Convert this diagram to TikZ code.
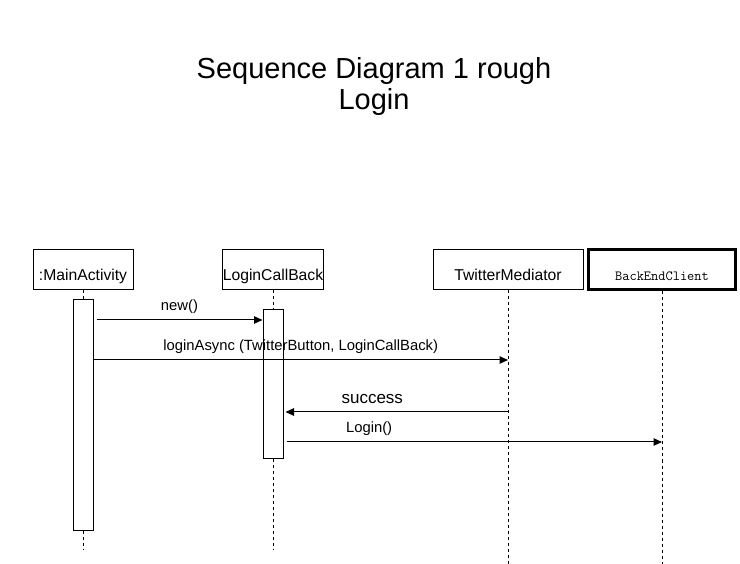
\documentclass[tikz,border=0pt]{standalone}
\usepackage{fontspec}
\setmainfont{Liberation Sans}
\usetikzlibrary{arrows.meta}

\begin{document}
\begin{tikzpicture}[
    x=1pt, % one unit per pixel of the original sketch
    y=-1pt, % y runs downwards, as in the sketch
    every node/.style={inner sep=0pt},
    title/.style={align=center, font=\fontsize{29}{31}\selectfont},
    actor/.style={draw, line width=1pt, minimum width=100pt, minimum height=40pt,
        text height=21pt, text depth=0pt, font=\fontsize{15.7}{18}\selectfont},
    lifeline/.style={line width=0.9pt, dash pattern=on 3pt off 3pt},
    activation/.style={draw, fill=white, line width=1pt, minimum width=20pt},
    msg/.style={line width=1pt, -{Triangle[length=8.5pt,width=7.5pt]}},
    msg label/.style={font=\fontsize{14.8}{17}\selectfont}
    ]

% --- Frame ---
\useasboundingbox (0,0) rectangle (740,564);

% --- Title ---
\node[title] (title) at (374,87) {Sequence Diagram 1 rough\\Login};

% --- Participants ---
\node[actor] (main) at (83,270) {:MainActivity};
\node[actor] (lcb) at (273,270) {LoginCallBack};
\node[actor, minimum width=150pt] (tm) at (508,270) {TwitterMediator};
\node[actor, minimum width=147pt, line width=3pt,
    font=\ttfamily\fontsize{14}{16}\selectfont] (bec) at (662,270) {BackEndClient};

% --- Lifelines ---
\foreach \p/\yEnd in {main/550, lcb/550, tm/564, bec/564} {
    \coordinate (\p-end) at (\p.south |- 0,\yEnd);
    \draw[lifeline] (\p.south) -- (\p-end);
}

% --- Activation bars ---
\node[activation, minimum height=230pt] (mainAct) at (83,415) {};
\node[activation, minimum height=148pt] (lcbAct) at (273,384) {};

% --- Messages ---
\coordinate (yNew) at (0,320);
\coordinate (yAsync) at (0,360);
\coordinate (ySuccess) at (0,412);
\coordinate (yLogin) at (0,442);

\draw[msg] ([xshift=3pt]mainAct.east |- yNew) -- (lcbAct.west |- yNew)
    node[msg label, midway, above=6pt] (lblNew) {new()};
\draw[msg] (mainAct.east |- yAsync) -- (tm.south |- yAsync)
    node[msg label, midway, above=6pt] (lblAsync) {loginAsync (TwitterButton, LoginCallBack)};
\draw[msg] (tm.south |- ySuccess) -- ([xshift=2pt]lcbAct.east |- ySuccess)
    node[font=\fontsize{17}{20}\selectfont, pos=0.61, above=8pt] (lblSuccess) {success};
\draw[msg] ([xshift=3pt]lcbAct.east |- yLogin) -- (bec.south |- yLogin)
    node[msg label, pos=0.22, above=6pt] (lblLogin) {Login()};

\end{tikzpicture}
\end{document}
